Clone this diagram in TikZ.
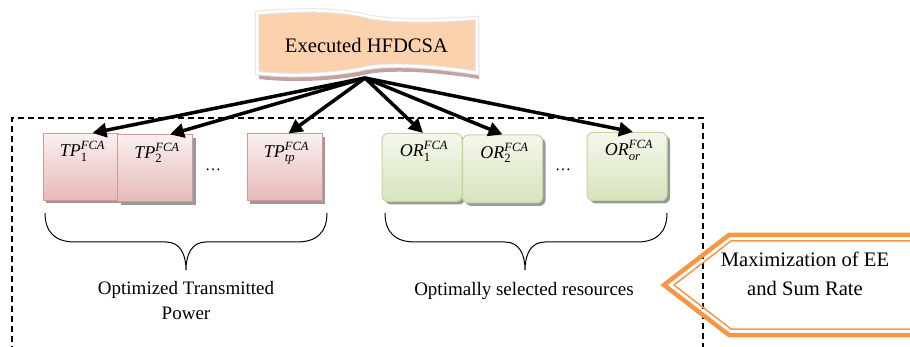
\documentclass[tikz,border=0pt]{standalone}
\usepackage{amsmath}
\usepackage{fontspec}
\setmainfont{Liberation Serif}
\usetikzlibrary{arrows.meta,calc,shadows}

\definecolor{peach}{HTML}{FBD1AE}
\definecolor{peachshadow}{HTML}{C4A2A2}
\definecolor{pinkedge}{HTML}{D99694}
\definecolor{pinktop}{HTML}{FAF0F0}
\definecolor{pinkbot}{HTML}{E6B9B8}
\definecolor{greenedge}{HTML}{C3D69B}
\definecolor{greentop}{HTML}{F4F8EC}
\definecolor{greenbot}{HTML}{D7E4BD}
\definecolor{chevron}{HTML}{F79646}

\tikzset{
  boxshadow/.style={drop shadow={shadow xshift=3pt, shadow yshift=-3pt, fill=black!50, opacity=0.8}},
  tpbox/.style={rectangle, draw=pinkedge, line width=1pt, top color=pinktop,
    bottom color=pinkbot, minimum width=75pt, minimum height=67pt, inner sep=0pt, boxshadow},
  orbox/.style={rectangle, rounded corners=6pt, draw=greenedge, line width=1pt,
    top color=greentop, bottom color=greenbot, minimum width=80pt, minimum height=68pt,
    inner sep=0pt, boxshadow},
  boxlabel/.style={font=\fontsize{18}{20}\selectfont, anchor=base, inner sep=0pt},
  dotsep/.style={font=\fontsize{16}{18}\selectfont, inner sep=0pt},
  feed/.style={line width=3.5pt, -{Triangle[length=14pt,width=14pt]}},
  frame/.style={line width=1.3pt, dash pattern=on 6pt off 4pt},
  brace/.style={line width=1pt},
  bigtext/.style={font=\fontsize{20.6}{29}\selectfont, inner sep=0pt, align=center},
  captext/.style={font=\fontsize{19}{25}\selectfont, inner sep=0pt, align=center},
  bannerpath/.style={insert path={(257,13) .. controls (315,8) and (345,11) .. (366,16)
    .. controls (390,22) and (440,21) .. (477,18) -- (477,73)
    .. controls (440,67) and (395,63) .. (366,68)
    .. controls (345,73) and (300,78) .. (257,73) -- cycle}}
}

\begin{document}
\begin{tikzpicture}[x=1pt,y=-1pt]
\useasboundingbox (0,0) rectangle (910,347);

% dashed frame around both groups (open at the bottom)
\draw[frame] (12,352) -- (12,118) -- (703,118) -- (703,352);

% transmitted power boxes
\node[tpbox] (tp1) at (80.5,167) {};
\node[tpbox] (tp2) at (155,168.5) {};
\node[tpbox] (tpn) at (284.5,167.5) {};
\node[boxlabel] (tp1l) at ([xshift=2pt,yshift=-24pt]tp1.north) {$\textit{TP}_{\text{1}}^{\textit{FCA}}$};
\node[boxlabel] (tp2l) at ([xshift=2pt,yshift=-24pt]tp2.north) {$\textit{TP}_{\text{2}}^{\textit{FCA}}$};
\node[boxlabel] (tpnl) at ([xshift=2pt,yshift=-24pt]tpn.north) {$\textit{TP}_{\textit{tp}}^{\textit{FCA}}$};
\node[dotsep] (tpdots) at (213,170) {…};

% selected resource boxes
\node[orbox] (or1) at (422,167.5) {};
\node[orbox] (or2) at (502.5,169) {};
\node[orbox] (orn) at (627,166.5) {};
\node[boxlabel] (or1l) at ([xshift=2pt,yshift=-24pt]or1.north) {$\textit{OR}_{\text{1}}^{\textit{FCA}}$};
\node[boxlabel] (or2l) at ([xshift=2pt,yshift=-24pt]or2.north) {$\textit{OR}_{\text{2}}^{\textit{FCA}}$};
\node[boxlabel] (ornl) at ([xshift=2pt,yshift=-24pt]orn.north) {$\textit{OR}_{\textit{or}}^{\textit{FCA}}$};
\node[dotsep] (ordots) at (563,170) {…};

% feeds from the algorithm to every box
\coordinate (src) at (365,78);
\draw[feed] (src) -- ([xshift=12pt]tp1.north);
\draw[feed] (src) -- ([xshift=15pt]tp2.north);
\draw[feed] (src) -- ([xshift=4pt]tpn.north);
\draw[feed] (src) -- ([xshift=1pt]or1.north);
\draw[feed] (src) -- (or2.north);
\draw[feed] (src) -- ([xshift=6pt]orn.north);

% wave banner
\fill[peachshadow, shift={(2,6)}, bannerpath];
\path[fill=peach, draw=black!10, line width=4.5pt, bannerpath];
\path[draw=white, line width=2.5pt, bannerpath];
\node[bigtext, anchor=base] (hfdcsa) at (366.5,53) {Executed HFDCSA};

% braces
\draw[brace] (45,213) .. controls (45,232) and (55,242) .. (75,242) -- (166,242)
  .. controls (180,242) and (186,254) .. (186,270)
  .. controls (186,254) and (192,242) .. (206,242) -- (297,242)
  .. controls (317,242) and (327,232) .. (327,213);
\draw[brace] (385,213) .. controls (385,232) and (395,242) .. (415,242) -- (505,242)
  .. controls (519,242) and (525,254) .. (525,270)
  .. controls (525,254) and (531,242) .. (545,242) -- (637,242)
  .. controls (657,242) and (667,232) .. (667,213);

\node[captext] (tplabel) at (186,300.5) {Optimized Transmitted\\Power};
\node[captext, anchor=base] (orlabel) at (524,295) {Optimally selected resources};

% chevron with double orange border
\draw[chevron, line width=4.5pt, line join=miter] (925,235) -- (729,235) -- (664,285) -- (729,335) -- (925,335);
\draw[chevron, line width=1.5pt, line join=miter] (925,241) -- (731,241) -- (674,285) -- (731,329) -- (925,329);
\node[bigtext] (goal) at (805,273.5) {Maximization of EE\\and Sum Rate};
\end{tikzpicture}
\end{document}
